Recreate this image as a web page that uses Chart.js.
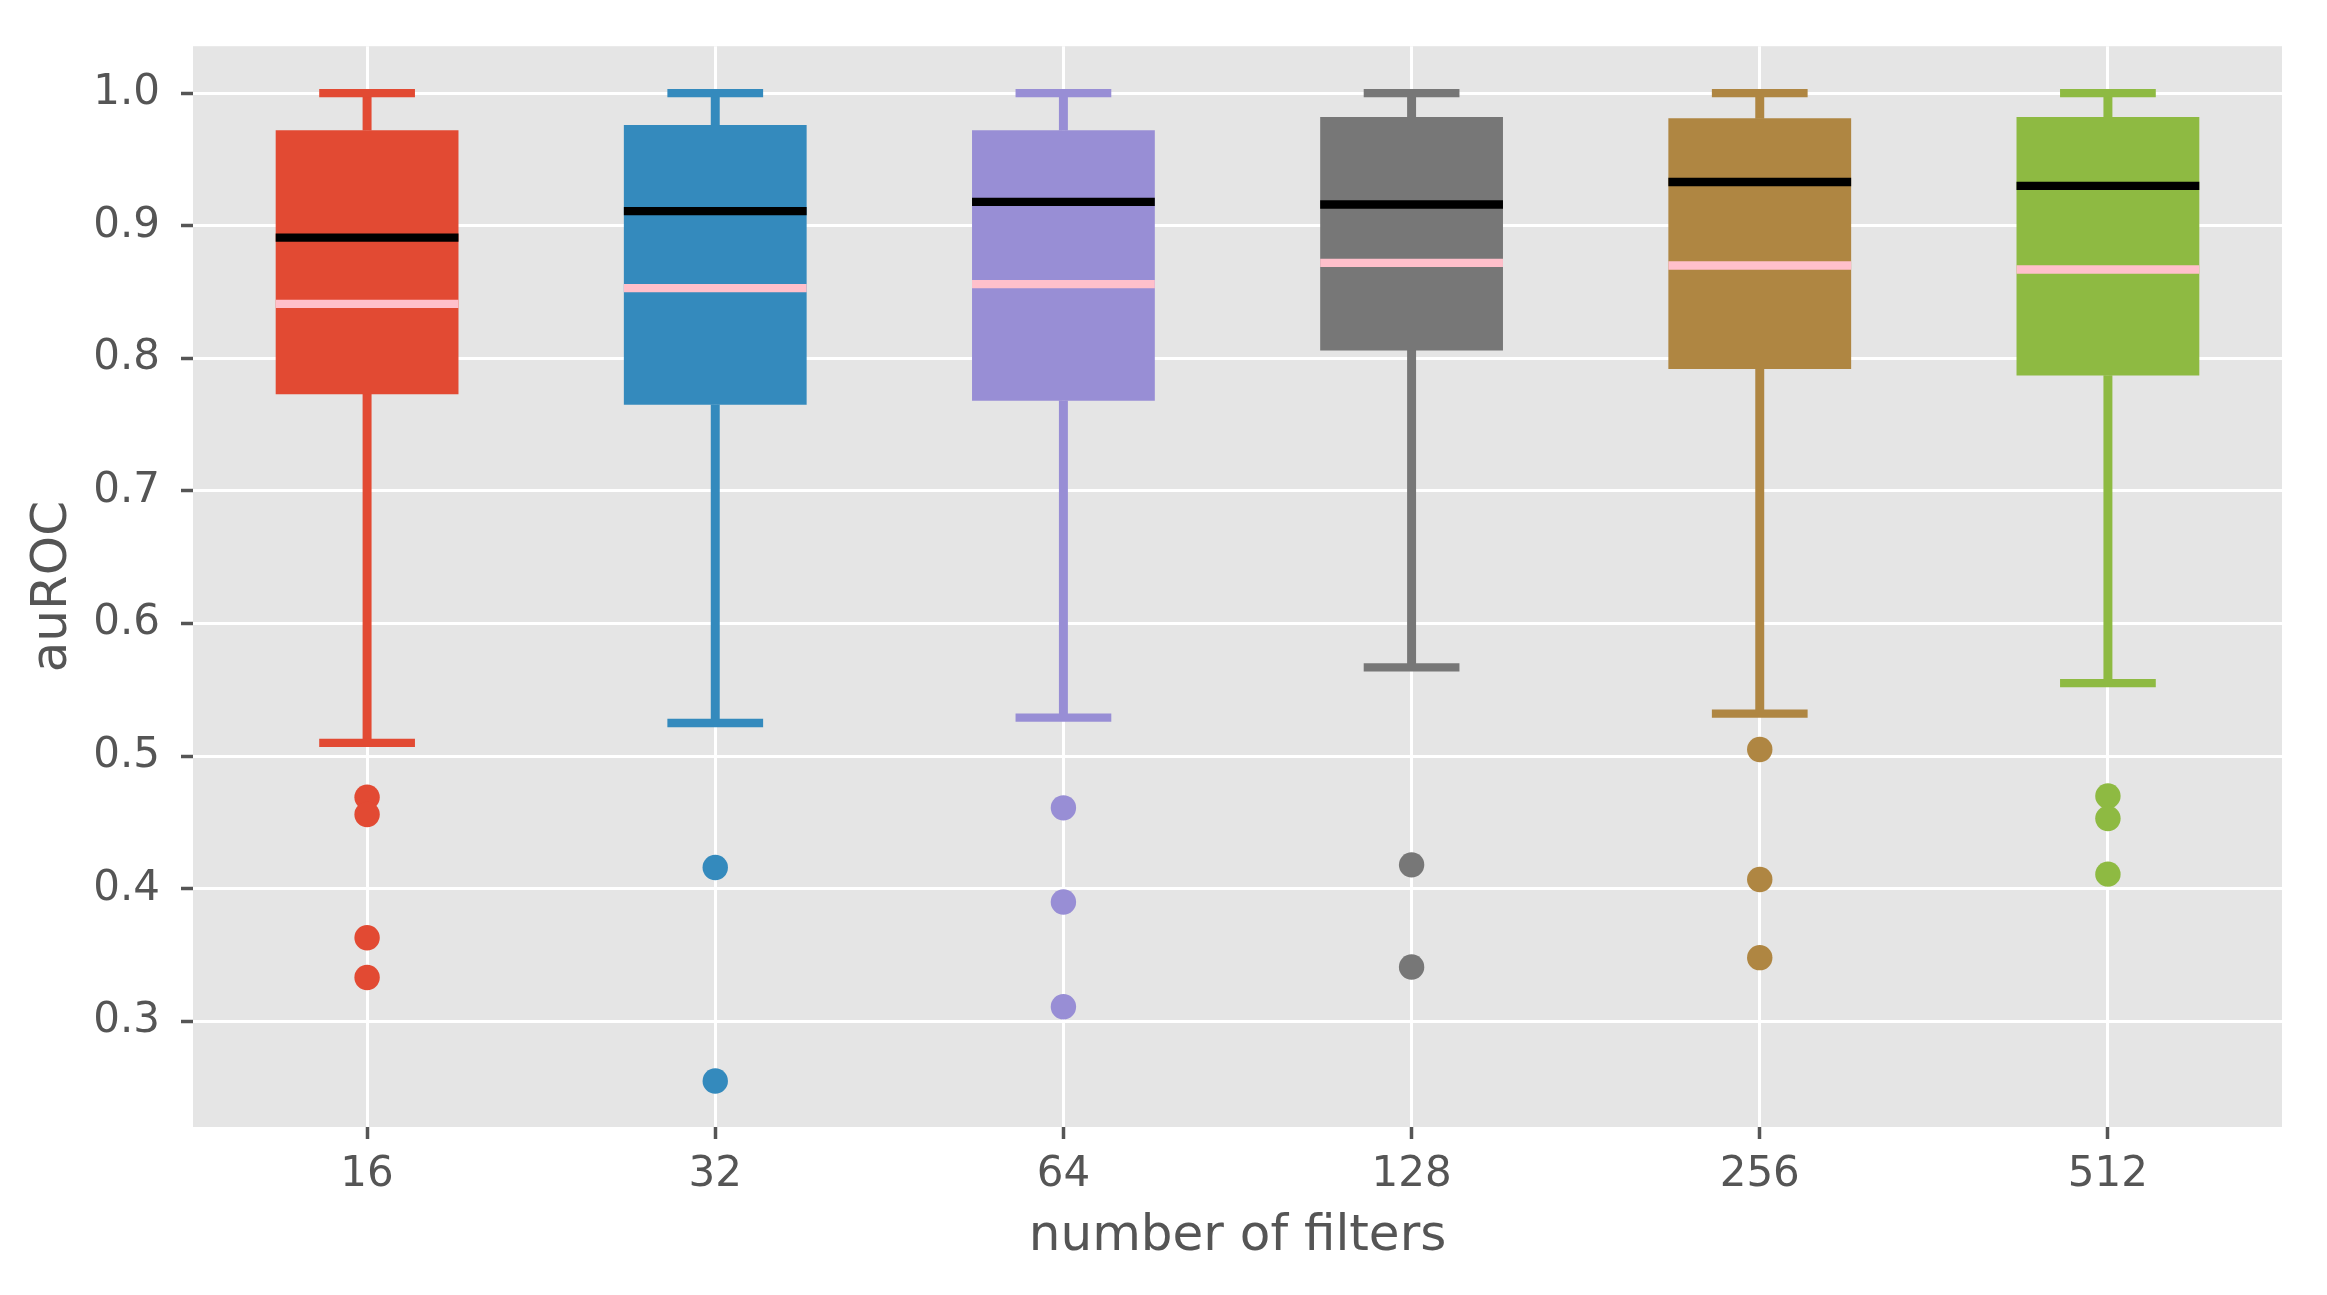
<!DOCTYPE html>
<html>
<head>
<meta charset="utf-8">
<title>auROC by number of filters</title>
<script src="https://cdn.jsdelivr.net/npm/chart.js@4.4.1/dist/chart.umd.min.js"></script>
<style>
  html, body { margin: 0; padding: 0; background: #ffffff; }
  #chart { display: block; }
</style>
</head>
<body>
<canvas id="chart" width="2327" height="1295"></canvas>
<script>
// Box plot statistics (one entry per filter count)
const categories = ['16', '32', '64', '128', '256', '512'];
const whiskerHigh = [1.0, 1.0, 1.0, 1.0, 1.0, 1.0];
const q3 = [0.972, 0.976, 0.972, 0.982, 0.981, 0.982];
const medians = [0.891, 0.911, 0.918, 0.916, 0.933, 0.930];
const means = [0.841, 0.853, 0.856, 0.872, 0.870, 0.867];
const q1 = [0.773, 0.765, 0.768, 0.806, 0.792, 0.787];
const whiskerLow = [0.510, 0.525, 0.529, 0.567, 0.532, 0.555];
const outliers = [
  [0.469, 0.456, 0.363, 0.333],
  [0.416, 0.255],
  [0.461, 0.390, 0.311],
  [0.418, 0.341],
  [0.505, 0.407, 0.348],
  [0.470, 0.453, 0.411]
];
const yTicks = [0.3, 0.4, 0.5, 0.6, 0.7, 0.8, 0.9, 1.0];

const boxColors = ['#E24A33', '#348ABD', '#988ED5', '#777777', '#AF8642', '#8EBA42'];
const textColor = '#555555';
const fontFamily = 'DejaVu Sans';

Chart.defaults.font.family = fontFamily;

// Half of a width given as a fraction of one category slot, in pixels
function halfWidth(fraction) {
  return function(ctx) {
    const xScale = ctx.chart.scales.x;
    return xScale.width / categories.length * fraction / 2;
  };
}

// Flatten the outliers into points with the colour of their box
let outlierPoints = [];
let outlierColors = [];
outliers.forEach((values, i) => {
  values.forEach((v) => {
    outlierPoints.push({ x: categories[i], y: v });
    outlierColors.push(boxColors[i]);
  });
});

// Grey panel behind the plot, ggplot style
const plotBackground = {
  id: 'plotBackground',
  beforeDraw(chart) {
    const { ctx, chartArea } = chart;
    ctx.save();
    ctx.fillStyle = '#E5E5E5';
    ctx.fillRect(chartArea.left, chartArea.top, chartArea.width, chartArea.height);
    ctx.restore();
  }
};

const lineW = 8.3;

const ctx = document.getElementById('chart').getContext('2d');
new Chart(ctx, {
  type: 'bar',
  data: {
    labels: categories,
    datasets: [
      {
        label: 'outliers',
        type: 'line',
        data: outlierPoints,
        showLine: false,
        pointStyle: 'circle',
        pointRadius: 12.7,
        pointBackgroundColor: outlierColors,
        pointBorderWidth: 0,
        order: 0
      },
      {
        label: 'median',
        type: 'line',
        data: medians,
        showLine: false,
        pointStyle: 'line',
        pointRadius: halfWidth(0.525),
        pointBorderColor: '#000000',
        pointBorderWidth: lineW,
        order: 1
      },
      {
        label: 'mean',
        type: 'line',
        data: means,
        showLine: false,
        pointStyle: 'line',
        pointRadius: halfWidth(0.525),
        pointBorderColor: '#FFC0CB',
        pointBorderWidth: lineW,
        order: 1
      },
      {
        label: 'upper cap',
        type: 'line',
        data: whiskerHigh,
        showLine: false,
        pointStyle: 'line',
        pointRadius: halfWidth(0.275),
        pointBorderColor: boxColors,
        pointBorderWidth: lineW,
        order: 2
      },
      {
        label: 'lower cap',
        type: 'line',
        data: whiskerLow,
        showLine: false,
        pointStyle: 'line',
        pointRadius: halfWidth(0.275),
        pointBorderColor: boxColors,
        pointBorderWidth: lineW,
        order: 2
      },
      {
        label: 'box',
        data: categories.map((c, i) => [q1[i], q3[i]]),
        backgroundColor: boxColors,
        borderWidth: 0,
        grouped: false,
        barPercentage: 0.525,
        categoryPercentage: 1,
        order: 3
      },
      {
        label: 'upper whisker',
        data: categories.map((c, i) => [q3[i], whiskerHigh[i]]),
        backgroundColor: boxColors,
        borderWidth: 0,
        grouped: false,
        barThickness: lineW,
        order: 4
      },
      {
        label: 'lower whisker',
        data: categories.map((c, i) => [whiskerLow[i], q1[i]]),
        backgroundColor: boxColors,
        borderWidth: 0,
        grouped: false,
        barThickness: lineW,
        order: 4
      }
    ]
  },
  options: {
    responsive: false,
    animation: false,
    layout: {
      padding: { top: 45, right: 45, bottom: 0, left: 0 }
    },
    plugins: {
      legend: { display: false },
      tooltip: { enabled: false }
    },
    scales: {
      x: {
        offset: true,
        grid: {
          offset: false,
          color: '#FFFFFF',
          lineWidth: 3,
          tickColor: textColor,
          tickWidth: 3.5,
          tickLength: 12
        },
        border: { display: false },
        ticks: {
          color: textColor,
          font: { size: 42 },
          padding: 11,
          maxRotation: 0
        },
        title: {
          display: true,
          text: 'number of filters',
          color: textColor,
          font: { size: 50 },
          padding: { top: 0, bottom: 28 }
        },
        afterFit(scale) {
          scale.height = 168;
        }
      },
      y: {
        min: 0.2203,
        max: 1.0354,
        grid: {
          color: '#FFFFFF',
          lineWidth: 3,
          tickColor: textColor,
          tickWidth: 3.5,
          tickLength: 12
        },
        border: { display: false },
        afterBuildTicks(scale) {
          scale.ticks = yTicks.map((v) => ({ value: v }));
        },
        ticks: {
          color: textColor,
          font: { size: 42 },
          padding: 21,
          callback: (value) => Number(value).toFixed(1)
        },
        title: {
          display: true,
          text: 'auROC',
          color: textColor,
          font: { size: 50 },
          padding: { top: 23, bottom: 0 }
        },
        afterFit(scale) {
          scale.width = 193;
        }
      }
    }
  },
  plugins: [plotBackground]
});
</script>
</body>
</html>
